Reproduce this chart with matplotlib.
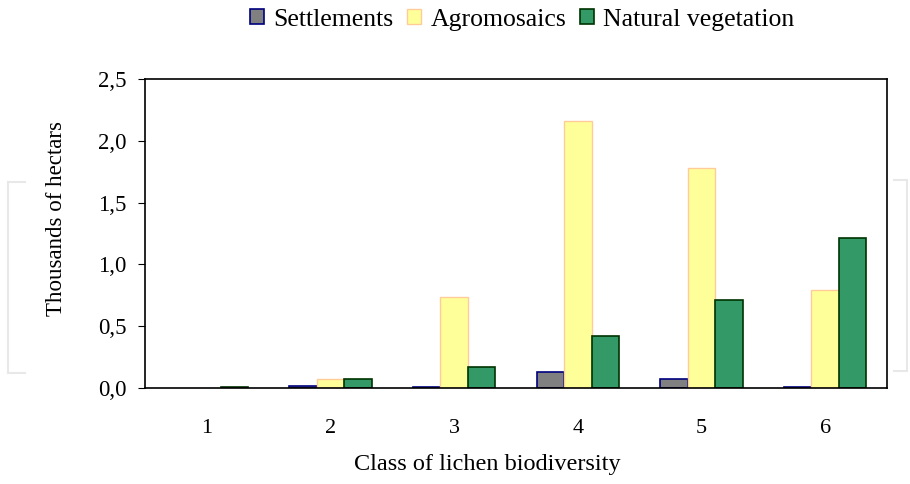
import numpy as np
import matplotlib.pyplot as plt
from matplotlib.lines import Line2D

plt.rcParams['font.family'] = ['Liberation Serif', 'DejaVu Serif']

classes = ["1", "2", "3", "4", "5", "6"]
settlements = [0.0, 0.02, 0.01, 0.13, 0.07, 0.01]
agromosaics = [0.0, 0.07, 0.74, 2.16, 1.78, 0.79]
natural = [0.01, 0.07, 0.17, 0.42, 0.71, 1.21]

fig = plt.figure(figsize=(9.1, 4.84), dpi=100)
ax = fig.add_axes([0.1593, 0.1983, 0.8154, 0.6385])

x = np.arange(len(classes))
w = 1 / 4.5
b1 = ax.bar(x - w, settlements, w, color="#808080", edgecolor="#000080", linewidth=1.2, label="Settlements")
b2 = ax.bar(x, agromosaics, w, color="#FFFF99", edgecolor="#FFCC99", linewidth=1.0, label="Agromosaics")
b3 = ax.bar(x + w, natural, w, color="#339966", edgecolor="#003300", linewidth=1.2, label="Natural vegetation")

ax.set_xlim(-0.5, len(classes) - 0.5)
ax.set_ylim(0, 2.5)
ax.set_yticks(np.arange(0, 2.51, 0.5))
ax.set_yticklabels([f"{v:.1f}".replace(".", ",") for v in np.arange(0, 2.51, 0.5)])
ax.set_xticks(x)
ax.set_xticklabels(classes)
ax.tick_params(axis="x", length=0, pad=22, labelsize=16)
ax.tick_params(axis="y", length=5, direction="out", labelsize=16.5, pad=8)
for s in ax.spines.values():
    s.set_linewidth(1.2)

ax.set_xlabel("Class of lichen biodiversity", fontsize=17.5)
ax.xaxis.set_label_coords(0.461, -0.215)
ax.set_ylabel("Thousands of hectars", fontsize=16.5)
ax.yaxis.set_label_coords(-0.105, 0.55)

# legend first, so its boxes keep the outline
leg = fig.legend(loc="upper center", bbox_to_anchor=(0.574, 1.03), ncol=3, frameon=False,
                 fontsize=18.5, handlelength=0.55, handleheight=0.55, handletextpad=0.35,
                 columnspacing=0.55)

# zero-height bars leave no outline on the baseline
for bars in (b1, b2, b3):
    for r in bars:
        if r.get_height() == 0:
            r.set_linewidth(0)

# faint page brackets
grey = "#e8e8e8"
for seg in [((0.009, 0.009), (0.23, 0.625)), ((0.009, 0.027), (0.625, 0.625)), ((0.009, 0.027), (0.23, 0.23)),
            ((0.997, 0.997), (0.233, 0.628)), ((0.982, 0.997), (0.628, 0.628)), ((0.982, 0.997), (0.233, 0.233))]:
    fig.add_artist(Line2D(seg[0], seg[1], color=grey, linewidth=1.5, transform=fig.transFigure))

fig.savefig("out.png", dpi=100)
